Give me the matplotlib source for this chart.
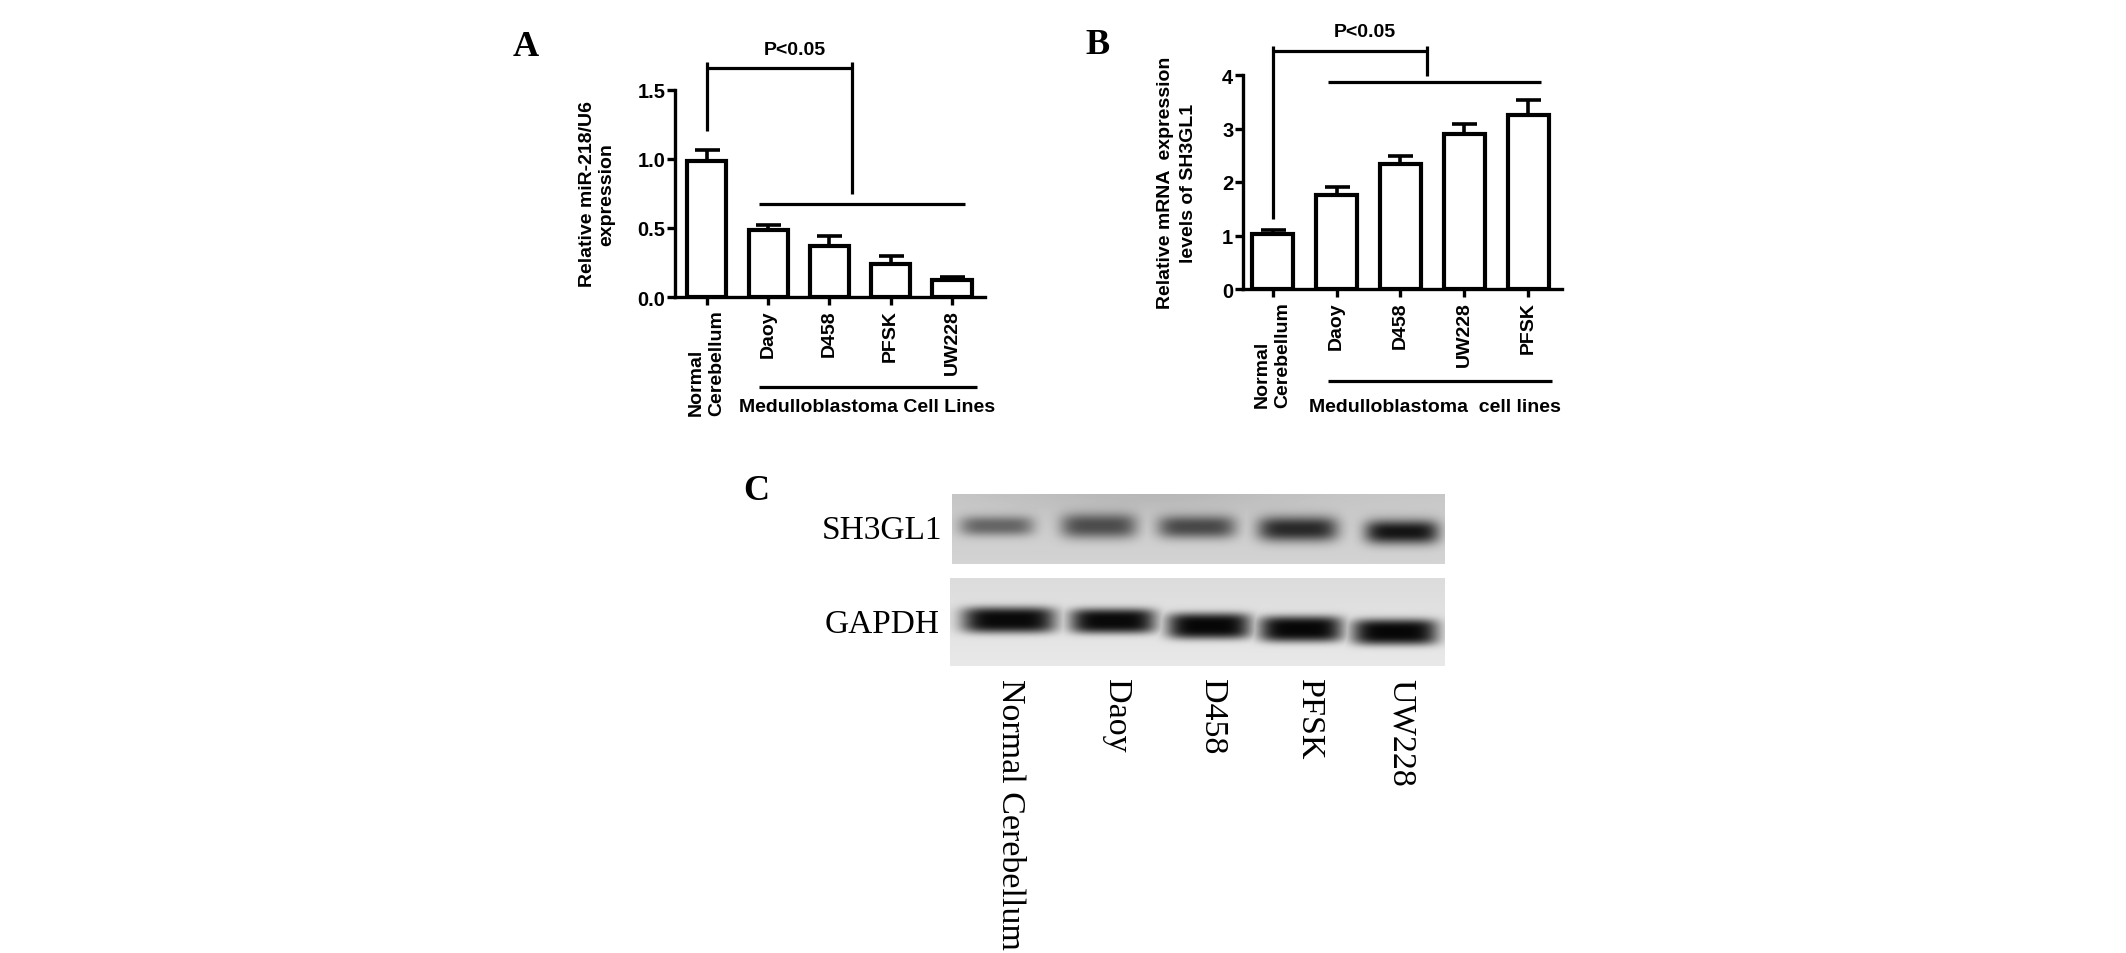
import numpy as np
import matplotlib
matplotlib.use("Agg")
import matplotlib.pyplot as plt

# ---------------- data ----------------
cats_a = ["Normal\nCerebellum", "Daoy", "D458", "PFSK", "UW228"]
mir218 = [0.985, 0.482, 0.369, 0.241, 0.121]
mir218_err = [0.080, 0.041, 0.075, 0.053, 0.024]
yticks_a = [0.0, 0.5, 1.0, 1.5]

cats_b = ["Normal\nCerebellum", "Daoy", "D458", "UW228", "PFSK"]
sh3gl1_mrna = [1.03, 1.76, 2.34, 2.90, 3.26]
sh3gl1_err = [0.08, 0.15, 0.14, 0.19, 0.28]
yticks_b = [0, 1, 2, 3, 4]

blot_lanes = ["Normal Cerebellum", "Daoy", "D458", "PFSK", "UW228"]
sh3gl1_band = [0.50, 0.62, 0.64, 0.80, 0.90]   # relative band density
gapdh_band = [0.96, 0.96, 0.97, 0.97, 0.97]

# ---------------- figure ----------------
W, H, DPI = 2126, 954, 100
fig = plt.figure(figsize=(W / DPI, H / DPI), dpi=DPI)
SANS = "Liberation Sans"
SERIF = "Liberation Serif"
LW = 2.4


def fx(px):
    return px / W


def fy(py):
    return 1 - py / H


def bar_panel(rect, cats, vals, errs, yticks, ylim, xlim, fmt, ylabel, lsp, ylab_x):
    ax = fig.add_axes(rect)
    x = np.arange(len(cats))
    ax.bar(x, vals, width=0.64, color="white", edgecolor="black", linewidth=3.0, zorder=3)
    ax.errorbar(x, vals, yerr=[np.zeros(len(vals)), errs], fmt="none", ecolor="black",
                elinewidth=2.6, capsize=9, capthick=2.6, zorder=2)
    ax.set_xlim(*xlim)
    ax.set_ylim(*ylim)
    ax.set_yticks(yticks)
    ax.set_yticklabels([fmt.format(t) for t in yticks], fontfamily=SANS,
                       fontweight="bold", fontsize=14.5)
    ax.set_xticks(x)
    ax.set_xticklabels(cats, rotation=90, fontfamily=SANS, fontweight="bold",
                       fontsize=14, va="top", ha="center", multialignment="left",
                       linespacing=1.25)
    for s in ("top", "right"):
        ax.spines[s].set_visible(False)
    for s in ("left", "bottom"):
        ax.spines[s].set_linewidth(LW)
    ax.tick_params(axis="y", length=5.5, width=LW, pad=1.5)
    ax.tick_params(axis="x", length=6, width=LW, pad=3)
    ax.set_ylabel(ylabel, fontfamily=SANS, fontweight="bold", fontsize=14,
                  linespacing=lsp, va="center", ha="center", multialignment="center")
    ax.yaxis.set_label_coords(ylab_x, 0.5)
    ax.set_facecolor("none")
    return ax


def line(ax, xs, ys):
    ax.plot(xs, ys, color="black", lw=2.3, clip_on=False, solid_capstyle="butt", zorder=4)


# Panel A
axA = bar_panel([fx(675), fy(298), fx(310), 207 / H], cats_a, mir218, mir218_err,
                yticks_a, (0, 1.5), (-0.52, 4.54), "{:.1f}",
                "Relative miR-218/U6\nexpression", 1.2, -0.252)
line(axA, [0, 0], [1.705, 1.206])
line(axA, [0, 2.37], [1.657, 1.657])
line(axA, [2.37, 2.37], [1.705, 0.748])
line(axA, [0.853, 4.21], [0.675, 0.675])
line(axA, [0.853, 4.41], [-0.652, -0.652])
axA.text(1.44, 1.797, "P<0.05", ha="center", va="center", fontfamily=SANS,
         fontweight="bold", fontsize=14)
axA.text(2.61, -0.797, "Medulloblastoma Cell Lines", ha="center", va="center",
         fontfamily=SANS, fontweight="bold", fontsize=14)

# Panel B
axB = bar_panel([fx(1243), fy(290), fx(319), 214 / H], cats_b, sh3gl1_mrna, sh3gl1_err,
                yticks_b, (0, 4), (-0.464, 4.53), "{:d}",
                "Relative mRNA  expression\nlevels of SH3GL1", 1.4, -0.207)
line(axB, [0, 0], [4.548, 1.308])
line(axB, [0, 2.41], [4.455, 4.455])
line(axB, [2.41, 2.41], [4.548, 3.99])
line(axB, [0.86, 4.2], [3.863, 3.863])
line(axB, [0.86, 4.38], [-1.714, -1.714])
axB.text(1.44, 4.81, "P<0.05", ha="center", va="center", fontfamily=SANS,
         fontweight="bold", fontsize=14)
axB.text(2.54, -2.19, "Medulloblastoma  cell lines", ha="center", va="center",
         fontfamily=SANS, fontweight="bold", fontsize=14)

# ---------------- Panel C (western blot) ----------------
axC = fig.add_axes([0, 0, 1, 1], zorder=-1)
axC.set_xlim(0, W)
axC.set_ylim(H, 0)
axC.axis("off")


def blot(x0, x1, y0, y1, cx, cy, hw, hh, dens, bg, grad=0.0, py=2.4):
    w, h = int(x1 - x0), int(y1 - y0)
    xx, yy = np.meshgrid(np.arange(w) + 0.5, np.arange(h) + 0.5)
    absorb = np.zeros((h, w))
    for c, yc, a, b, d in zip(cx, cy, hw, hh, dens):
        prof = np.exp(-np.abs((xx - (c - x0)) / a) ** 5 - np.abs((yy - (yc - y0)) / b) ** py)
        absorb = np.maximum(absorb, d * prof)
    base = bg + 0.05 * (yy / h) - grad * np.exp(-(yy / (0.35 * h)) ** 2) \
        * np.exp(-((xx - 0.40 * w) / (0.30 * w)) ** 2)
    img = base * (1 - absorb)
    axC.imshow(img, cmap="gray", vmin=0, vmax=1, extent=[x0, x1, y1, y0],
               aspect="auto", interpolation="bilinear")


blot(952, 1445, 495, 565,
     [997, 1099, 1197, 1298, 1402], [527, 527, 528, 530, 533],
     [37, 38, 39, 40, 37], [10, 12.5, 11.5, 12.5, 12], sh3gl1_band, 0.78, grad=0.06)
blot(950, 1445, 579, 667,
     [1009, 1113, 1209, 1301, 1395], [621, 622, 627, 630, 633],
     [47, 43, 42, 42, 43], [13, 12.5, 13, 13, 13], gapdh_band, 0.86, py=3.5)

axC.text(942, 531, "SH3GL1", ha="right", va="center", fontfamily=SERIF, fontsize=24)
axC.text(940, 625, "GAPDH", ha="right", va="center", fontfamily=SERIF, fontsize=24)
for lx, lab in zip([1010, 1116, 1212, 1309, 1401], blot_lanes):
    axC.text(lx, 679, lab, rotation=-90, ha="center", va="top", fontfamily=SERIF,
             fontsize=24.5)

# panel letters
for px, py, letter in [(526, 47, "A"), (1098, 45, "B"), (756, 492, "C")]:
    axC.text(px, py, letter, ha="center", va="center", fontfamily=SERIF,
             fontweight="bold", fontsize=26)

fig.savefig("out.png", dpi=DPI, facecolor="white")
